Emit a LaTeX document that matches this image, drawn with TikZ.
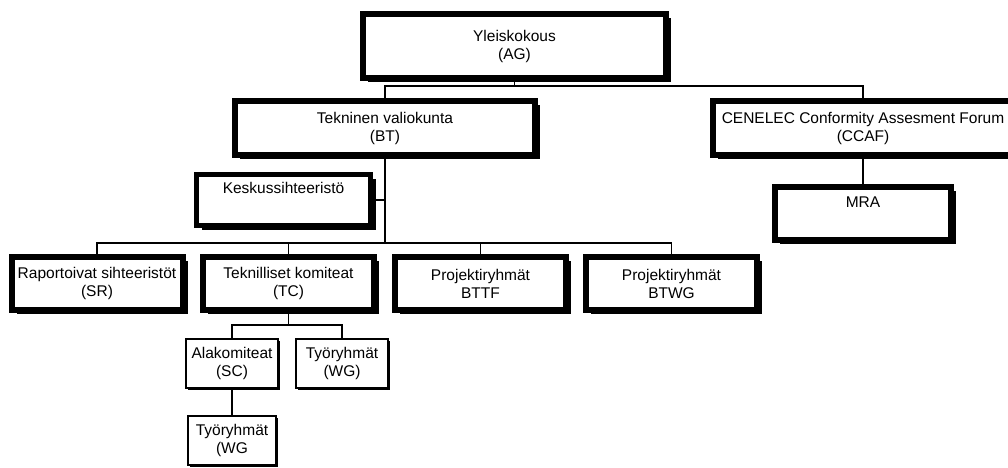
\documentclass[tikz,border=0pt]{standalone}
\usepackage{fontspec}
\setmainfont{Liberation Sans}
\usetikzlibrary{shadows}

\begin{document}
\begin{tikzpicture}[
        x=1pt, y=-1pt,
        font=\fontsize{15.5}{18}\selectfont,
        every node/.style={draw, fill=white, align=center, inner sep=0pt},
        bigbox/.style={line width=6pt, minimum width=300pt, minimum height=54pt,
          drop shadow={shadow xshift=5pt, shadow yshift=-4pt, fill=black, opacity=1}},
        unitbox/.style={bigbox, minimum width=171pt, minimum height=53pt},
        subbox/.style={line width=2pt, minimum width=92pt, minimum height=49pt,
          drop shadow={shadow xshift=2pt, shadow yshift=-2pt, fill=black, opacity=1}},
        link/.style={line width=1.2pt}
      ]
        \useasboundingbox (0,0) rectangle (1008,467);
        \clip (0,0) rectangle (1008,467);

        \node[bigbox, minimum width=303pt, minimum height=64pt] (ag) at (514.5,46) {Yleiskokous\\(AG)};
        \node[bigbox] (bt) at (385,128) {Tekninen valiokunta\\(BT)};
        \node[bigbox] (ccaf) at (863,128) {CENELEC Conformity Assesment Forum\\(CCAF)};
        \node[bigbox, minimum width=176pt, minimum height=53pt] (mra) at (863,213.5) {MRA\\\strut};
        \node[bigbox, line width=5pt, minimum width=174pt, minimum height=51pt] (ks) at (283.5,200) {Keskussihteeristö\\\strut};

        \node[unitbox] (sr) at (97,283.5) {Raportoivat sihteeristöt\\(SR)};
        \node[unitbox] (tc) at (288.5,283.5) {Teknilliset komiteat\\(TC)};
        \node[unitbox] (bttf) at (480.5,283.5) {Projektiryhmät\\BTTF};
        \node[unitbox] (btwg) at (671.5,283.5) {Projektiryhmät\\BTWG};

        \node[subbox] (sc) at (232,363.5) {Alakomiteat\\(SC)};
        \node[subbox] (wg) at (342,363.5) {Työryhmät\\(WG)};
        \node[subbox, minimum width=88pt] (wgsc) at (232,440.5) {Työryhmät\\(WG};

        \coordinate (agbus) at (514.5,86);
        \coordinate (btbus) at (385,243);
        \coordinate (tcbus) at (288.5,325);

        % Lines from the general assembly
        \draw[link] (ag.south) -- (agbus);
        \draw[link] (bt.north) |- (agbus) -| (ccaf.north);
        \draw[link] (ccaf.south) -- (mra.north);

        % Lines under the technical board
        \draw[link] (bt.south) -- (btbus);
        \draw[link] (ks.east) -- (ks.east -| bt.south);
        \draw[link] (sr.north) |- (btbus) -| (btwg.north);
        \draw[link] (tc.north) -- (tc.north |- btbus);
        \draw[link] (bttf.north) -- (bttf.north |- btbus);

        % Lines under the technical committees
        \draw[link] (tc.south) -- (tcbus);
        \draw[link] (sc.north) |- (tcbus) -| (wg.north);
        \draw[link] (sc.south) -- (wgsc.north);

    \end{tikzpicture}
\end{document}
